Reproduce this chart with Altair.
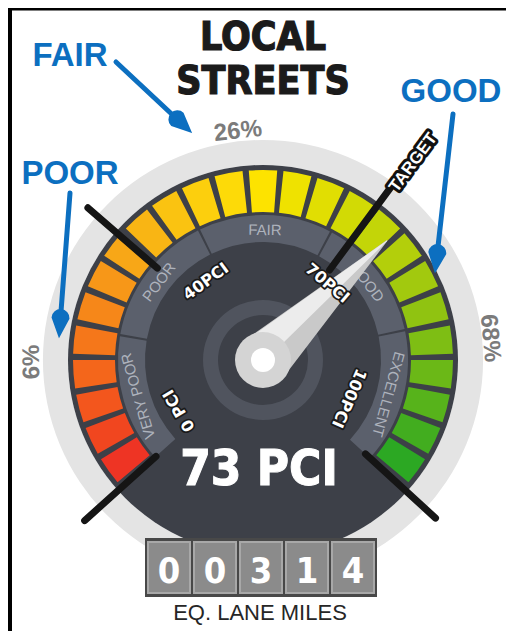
import numpy as np
import pandas as pd
import altair as alt

# ---------------- values ----------------
TITLE = ["LOCAL", "STREETS"]
CURRENT_PCI = 73
CURRENT_LABEL = "73 PCI"
TARGET_PCI = 70
TARGET_LABEL = "TARGET"
PCI_TICKS = [0, 40, 70, 100]
PCI_TICK_LABELS = ["0 PCI", "40PCI", "70PCI", "100PCI"]
BANDS = ["VERY POOR", "POOR", "FAIR", "GOOD", "EXCELLENT"]
BAND_EDGES = [0, 25, 48, 67, 83, 100]
CONDITIONS = ["POOR", "FAIR", "GOOD"]
CONDITION_LO = [0, 40, 70]
CONDITION_HI = [40, 70, 100]
CONDITION_SHARE = ["6%", "26%", "68%"]
SEGMENT_COLORS = [
    "#ee3424", "#f1461f", "#f3561d", "#f4661b", "#f5771a", "#f68719",
    "#f79718", "#f8a717", "#f9b514", "#fac311", "#fccf0d", "#fdda08",
    "#fde300",
    "#efe200", "#e1de02", "#d2da05", "#c3d508", "#b3cf0b", "#a2c90e",
    "#90c311", "#7ebe14", "#6bb817", "#57b31b", "#42ad1f", "#2ca823",
]
LANE_MILES = ["0", "0", "3", "1", "4"]
LANE_MILES_LABEL = "EQ. LANE MILES"

# dial scale: PCI -> degrees clockwise from 12 o'clock (piecewise, as drawn)
DIAL_PCI = [0, 40, 70, 100]
DIAL_DEG = [-132, -49, 36.5, 132.5]
SEG_SPAN = (-131, 131)

# ---------------- layout (not data) ----------------
W, H = 498, 623
CX, CY = 255, 352          # gauge centre inside the chart, in px
R_RING = (195, 220)
R_FACE = 195
R_SEG = (148, 190)
R_BAND = (118, 145)
R_HUB = (45, 60)
SEG_GAP = 1.9
BAND_GAP = 0.9
TICK_R = {0: (144, 240), 40: (140, 232), 70: (112, 225), 100: (139, 234)}
TICK_LABEL_OFF = [11, 13, 3.5, -18.5]
TICK_LABEL_R = [98, 97, 100, 94]
SHARE_R = [231, 230, 228]
NARROW = "DejaVu Sans Condensed, Liberation Sans Narrow, sans-serif"
SANS = "Liberation Sans, Arial, sans-serif"
DEJ = "DejaVu Sans, sans-serif"
BLUE = "#0c6fc0"
FACE = "#3d4048"

xs = alt.Scale(domain=[-CX, W - CX], nice=False, zero=False)
ys = alt.Scale(domain=[CY - H, CY], nice=False, zero=False)


def X(f):
    return alt.X(f, type="quantitative", scale=xs, axis=None)


def Y(f):
    return alt.Y(f, type="quantitative", scale=ys, axis=None)


def pdeg(v):
    return float(np.interp(v, DIAL_PCI, DIAL_DEG))


def pol(r, deg):
    a = np.radians(deg)
    return r * np.sin(a), r * np.cos(a)


def arc_layer(rows, inner, outer):
    df = pd.DataFrame(rows)
    df["cx"] = 0.0
    df["cy"] = 0.0
    df["a0"] = np.radians(df["t0"])
    df["a1"] = np.radians(df["t1"])
    return alt.Chart(df).mark_arc(innerRadius=inner, outerRadius=outer).encode(
        x=X("cx"), y=Y("cy"),
        theta=alt.Theta("a0:Q", scale=None, stack=None),
        theta2=alt.Theta2("a1:Q"),
        color=alt.Color("col:N", scale=None, legend=None),
    )


def rule_layer(rows, **mk):
    df = pd.DataFrame(rows)
    return alt.Chart(df).mark_rule(**mk).encode(
        x=X("x0"), y=Y("y0"), x2=alt.X2("x1"), y2=alt.Y2("y1"))


def trail_layer(rows, color):
    df = pd.DataFrame(rows)
    return alt.Chart(df).mark_trail(color=color).encode(
        x=X("x"), y=Y("y"),
        size=alt.Size("w:Q", scale=None, legend=None),
        detail="id:N", order="o:Q")


def text_layer(rows, **mk):
    df = pd.DataFrame(rows)
    enc = dict(x=X("x"), y=Y("y"), text="t:N")
    if "ang" in df.columns:
        enc["angle"] = alt.Angle("ang:Q", scale=None)
    return alt.Chart(df).mark_text(**mk).encode(**enc)


layers = []

# frame
one = pd.DataFrame({"k": [0]})
layers.append(alt.Chart(one).mark_rule(color="#000", strokeWidth=5).encode(
    x=alt.value(1.5), y=alt.value(0), y2=alt.value(H)))
layers.append(alt.Chart(one).mark_rule(color="#000", strokeWidth=4).encode(
    y=alt.value(0.5), x=alt.value(0), x2=alt.value(W)))

# light outer ring and dark face
layers.append(arc_layer([{"t0": 0, "t1": 360, "col": "#e4e4e4"}], *R_RING))
layers.append(arc_layer([{"t0": 0, "t1": 360, "col": FACE}], 0, R_FACE))

# coloured segments
n = len(SEGMENT_COLORS)
step = (SEG_SPAN[1] - SEG_SPAN[0]) / n
seg_rows = [{"t0": SEG_SPAN[0] + i * step + SEG_GAP / 2,
             "t1": SEG_SPAN[0] + (i + 1) * step - SEG_GAP / 2,
             "col": c} for i, c in enumerate(SEGMENT_COLORS)]
layers.append(arc_layer(seg_rows, *R_SEG))

# condition band
band_rows = []
band_lbl = []
for i, name in enumerate(BANDS):
    a0, a1 = pdeg(BAND_EDGES[i]), pdeg(BAND_EDGES[i + 1])
    band_rows.append({"t0": a0 + (BAND_GAP / 2 if i else 0),
                      "t1": a1 - (BAND_GAP / 2 if i < len(BANDS) - 1 else 0),
                      "col": "#5b606c"})
    mid = (a0 + a1) / 2
    x, y = pol(130, mid)
    band_lbl.append({"x": x, "y": y, "t": name, "ang": mid % 360})
layers.append(arc_layer(band_rows, *R_BAND))
layers.append(text_layer(band_lbl, font=SANS, fontSize=15, color="#aeb3bd",
                         align="center", baseline="middle"))

# hub ring
layers.append(arc_layer([{"t0": 0, "t1": 360, "col": "#50545e"}], *R_HUB))

# black tick lines
tick_rows = []
for v in PCI_TICKS:
    r0, r1 = TICK_R[v]
    x0, y0 = pol(r0, pdeg(v))
    x1, y1 = pol(r1, pdeg(v))
    tick_rows.append({"x0": x0, "y0": y0, "x1": x1, "y1": y1})
layers.append(rule_layer(tick_rows, color="#151515", strokeWidth=7, strokeCap="round"))

# needle
na = pdeg(CURRENT_PCI)
tipx, tipy = pol(172, na)
nx, ny = -np.cos(np.radians(na)), np.sin(np.radians(na))
layers.append(trail_layer([{"x": 0, "y": 0, "w": 54, "id": 0, "o": 0},
                           {"x": tipx, "y": tipy, "w": 1, "id": 0, "o": 1}], "#c9c9c9"))
layers.append(trail_layer([{"x": nx * 12, "y": ny * 12, "w": 28, "id": 0, "o": 0},
                           {"x": tipx, "y": tipy, "w": 0.5, "id": 0, "o": 1}], "#ececec"))
layers.append(arc_layer([{"t0": 0, "t1": 360, "col": "#d4d4d4"}], 0, 28))
layers.append(arc_layer([{"t0": 0, "t1": 360, "col": "#ffffff"}], 0, 12))

# PCI tick labels
pl = []
for v, lab, off, r in zip(PCI_TICKS, PCI_TICK_LABELS, TICK_LABEL_OFF, TICK_LABEL_R):
    a = pdeg(v) + off
    x, y = pol(r, a)
    pl.append({"x": x, "y": y, "t": lab, "ang": a % 360})
layers.append(text_layer(pl, font=DEJ, fontSize=16, fontWeight="bold", color="#1a1a1a",
                         stroke="#1a1a1a", strokeWidth=3.5, strokeJoin="round",
                         align="center", baseline="middle"))
layers.append(text_layer(pl, font=DEJ, fontSize=16, fontWeight="bold", color="#ffffff",
                         align="center", baseline="middle"))

# target label
ta = pdeg(TARGET_PCI)
tx, ty = pol(248, ta + 0.8)
tl = [{"x": tx, "y": ty, "t": TARGET_LABEL, "ang": (ta - 90) % 360}]
layers.append(text_layer(tl, font=SANS, fontSize=17, fontWeight="bold", color="#111",
                         stroke="#111", strokeWidth=6, strokeJoin="round",
                         align="center", baseline="middle"))
layers.append(text_layer(tl, font=SANS, fontSize=17, fontWeight="bold", color="#ffffff",
                         align="center", baseline="middle"))

# condition shares around the ring
sh = []
for lo, hi, s, r in zip(CONDITION_LO, CONDITION_HI, CONDITION_SHARE, SHARE_R):
    a = (pdeg(lo) + pdeg(hi)) / 2
    x, y = pol(r, a)
    sh.append({"x": x, "y": y, "t": s, "ang": a % 360})
layers.append(text_layer(sh, font=SANS, fontSize=24, fontWeight="bold", color="#7b7b7b",
                         align="center", baseline="middle"))

# big value
layers.append(text_layer([{"x": -4, "y": -125, "t": CURRENT_LABEL}], font=NARROW,
                         fontSize=49, fontWeight="bold", color="#ffffff",
                         stroke="#ffffff", strokeWidth=1,
                         align="center", baseline="alphabetic"))

# lane-miles counter
layers.append(alt.Chart(one).mark_rect(color="#484848").encode(
    x=alt.X(datum=-118, type="quantitative", scale=xs, axis=None),
    x2=alt.X2(datum=114), y=alt.Y(datum=-178, type="quantitative", scale=ys, axis=None),
    y2=alt.Y2(datum=-237)))
cells = pd.DataFrame({"t": LANE_MILES})
cells["x0"] = [-115 + 46 * i for i in range(len(LANE_MILES))]
cells["x1"] = cells["x0"] + 42
cells["x"] = cells["x0"] + 21
cells["y0"] = -182
cells["y1"] = -233
cells["y"] = -223
layers.append(alt.Chart(cells).mark_rect(color="#8b8b8b", stroke="#a8a8a8", strokeWidth=2).encode(
    x=X("x0"), x2=alt.X2("x1"), y=Y("y0"), y2=alt.Y2("y1")))
layers.append(alt.Chart(cells).mark_text(font=NARROW, fontSize=36, fontWeight="bold",
                                         color="#ffffff", align="center", baseline="alphabetic").encode(
    x=X("x"), y=Y("y"), text="t:N"))
layers.append(text_layer([{"x": -3, "y": -260, "t": LANE_MILES_LABEL}], font=SANS,
                         fontSize=22, color="#262626", align="center", baseline="alphabetic"))

# title
layers.append(text_layer([{"x": 0, "y": 310, "t": TITLE[0]}, {"x": 0, "y": 266, "t": TITLE[1]}],
                         font=NARROW, fontSize=39, fontWeight="bold", color="#1b1b1b",
                         stroke="#1b1b1b", strokeWidth=1.2,
                         align="center", baseline="alphabetic"))

# blue annotations
ann_pos = {"FAIR": (-193, 294), "POOR": (-193, 176), "GOOD": (188, 258)}
layers.append(text_layer([{"x": ann_pos[c][0], "y": ann_pos[c][1], "t": c} for c in CONDITIONS],
                         font=SANS, fontSize=33, fontWeight="bold", color=BLUE,
                         align="center", baseline="alphabetic"))
arrows = {"FAIR": ((116, 62), (192, 133)), "POOR": ((70, 193), (59, 338)),
          "GOOD": ((453, 114), (435, 273))}
ar = []
for k, c in enumerate(CONDITIONS):
    (sx, sy), (ex, ey) = arrows[c]
    sx, sy, ex, ey = sx - 263, 360 - sy, ex - 263, 360 - ey
    d = np.hypot(ex - sx, ey - sy)
    ux, uy = (ex - sx) / d, (ey - sy) / d
    bx, by = ex - ux * 20, ey - uy * 20
    ar += [{"x": sx, "y": sy, "w": 5, "id": f"s{k}", "o": 0},
           {"x": bx + ux * 2, "y": by + uy * 2, "w": 5, "id": f"s{k}", "o": 1},
           {"x": bx, "y": by, "w": 18, "id": f"h{k}", "o": 0},
           {"x": ex, "y": ey, "w": 0.3, "id": f"h{k}", "o": 1}]
layers.append(trail_layer(ar, BLUE))

chart = alt.layer(*layers).properties(
    width=W, height=H, padding=0, background="white",
    autosize=alt.AutoSizeParams(type="none"),
).configure_view(stroke=None)

chart.save("out.html", embed_options={"renderer": "svg", "actions": False})
